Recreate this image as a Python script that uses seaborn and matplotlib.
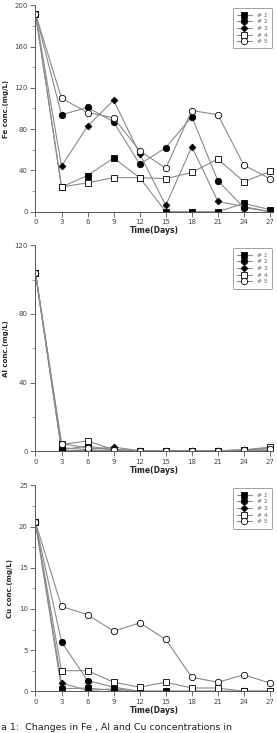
import numpy as np
import pandas as pd
import matplotlib
matplotlib.use("Agg")
import matplotlib.pyplot as plt
from matplotlib.ticker import MultipleLocator
import seaborn as sns

# Datos
days = [0, 3, 6, 9, 12, 15, 18, 21, 24, 27]
series = ["# 1", "# 2", "# 3", "# 4", "# 5"]

fe_1 = [192, 24, 35, 52, 33, 0, 0, 0, 8, 2]
fe_2 = [192, 94, 101, 87, 46, 62, 92, 30, 4, 0]
fe_3 = [192, 44, 83, 108, 56, 6, 63, 10, 5, 0]
fe_4 = [192, 24, 28, 33, 33, 32, 38, 51, 29, 39]
fe_5 = [192, 110, 96, 91, 59, 42, 98, 94, 45, 32]

al_1 = [104, 1.0, 3.0, 1.0, 0.3, 0.3, 0.3, 0.3, 0.8, 2.0]
al_2 = [104, 0.5, 0.5, 0.5, 0.3, 0.3, 0.3, 0.3, 0.5, 0.5]
al_3 = [104, 2.0, 1.0, 2.5, 0.3, 0.3, 0.3, 0.3, 0.5, 0.5]
al_4 = [104, 4.0, 6.0, 1.0, 0.3, 0.3, 0.3, 0.3, 0.8, 2.5]
al_5 = [104, 4.5, 2.0, 1.0, 0.3, 0.3, 0.3, 0.3, 0.8, 1.5]

cu_1 = [20.5, 0.3, 0.4, 0.1, 0.0, 0.0, 0.0, 0.0, 0.0, 0.0]
cu_2 = [20.5, 6.0, 1.3, 0.5, 0.0, 0.0, 0.0, 0.0, 0.0, 0.0]
cu_3 = [20.5, 1.0, 0.1, 0.3, 0.0, 0.0, 0.0, 0.0, 0.0, 0.0]
cu_4 = [20.5, 2.5, 2.5, 1.1, 0.5, 1.1, 0.4, 0.4, 0.0, 0.0]
cu_5 = [20.5, 10.3, 9.3, 7.3, 8.3, 6.3, 1.7, 1.1, 2.0, 1.0]

fe_data = [fe_1, fe_2, fe_3, fe_4, fe_5]
al_data = [al_1, al_2, al_3, al_4, al_5]
cu_data = [cu_1, cu_2, cu_3, cu_4, cu_5]

markers = ["s", "o", "D", "s", "o"]
faces = ["black", "black", "black", "white", "white"]
sizes = [4.3, 4.6, 3.4, 4.3, 4.6]

sns.set_style("white")
plt.rcParams["font.family"] = ["DejaVu Sans"]

fig = plt.figure(figsize=(2.77, 7.33), dpi=100)

panels = [
    (fe_data, "Fe conc.(mg/L)", 200, 40, 20, [0.128, 0.7112, 0.856, 0.2816]),
    (al_data, "Al conc.(mg/L)", 120, 40, 20, [0.128, 0.3843, 0.856, 0.2810]),
    (cu_data, "Cu conc.(mg/L)", 25, 5, 2.5, [0.128, 0.0569, 0.856, 0.2810]),
]

for data, ylabel, ymax, major, minor, pos in panels:
    ax = fig.add_axes(pos)
    for i, vals in enumerate(data):
        df = pd.DataFrame({"day": days, "conc": vals})
        sns.lineplot(data=df, x="day", y="conc", ax=ax, color="#8a8a8a", lw=0.8,
                     marker=markers[i], markersize=sizes[i],
                     markerfacecolor=faces[i], markeredgecolor="black",
                     markeredgewidth=0.6, label=series[i])
    ax.set_xlim(0, 27.3)
    ax.set_ylim(0, ymax)
    ax.set_xticks(days)
    ax.yaxis.set_major_locator(MultipleLocator(major))
    ax.yaxis.set_minor_locator(MultipleLocator(minor))
    sns.despine(ax=ax)
    for s in ["left", "bottom"]:
        ax.spines[s].set_color("#555555")
        ax.spines[s].set_linewidth(0.7)
    ax.tick_params(axis="both", which="major", direction="out", length=3.5,
                   width=0.6, color="#555555", labelsize=5, labelcolor="#444444", pad=2,
                   left=True, bottom=True)
    ax.tick_params(axis="y", which="minor", direction="out", length=2,
                   width=0.5, color="#777777", left=True)
    ax.set_xlabel("Time(Days)", fontsize=5.5, fontweight="bold", labelpad=0.5)
    ax.set_ylabel(ylabel, fontsize=5, fontweight="bold", labelpad=4)
    leg = ax.legend(loc="upper right", fontsize=4.3, frameon=True, fancybox=True,
                    handlelength=2.4, handletextpad=0.9, borderpad=0.7,
                    labelspacing=0.25, bbox_to_anchor=(1.01, 1.0),
                    labelcolor="#666666")
    leg.get_frame().set_edgecolor("#888888")
    leg.get_frame().set_linewidth(0.7)

# Pie de figura
fig.text(0.004, 0.002, "a 1:  Changes in Fe , Al and Cu concentrations in",
         fontsize=6.8, ha="left", va="bottom", color="#222222")

fig.savefig("out.png", dpi=100)
